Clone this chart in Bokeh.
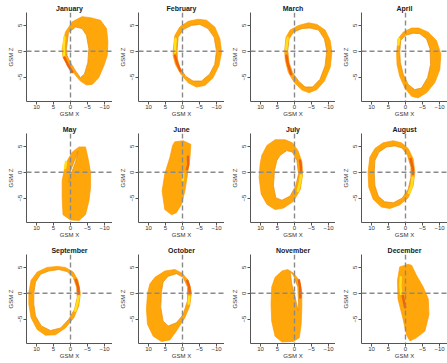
from bokeh.plotting import figure
from bokeh.layouts import gridplot
from bokeh.models import Range1d, FixedTicker, Span
from bokeh.embed import file_html
from bokeh.resources import INLINE

MONTHS = ["January", "February", "March", "April", "May", "June",
          "July", "August", "September", "October", "November", "December"]
X_TICKS = [10, 5, 0, -5, -10]
Z_TICKS = [-5, 0, 5]
X_LEFT = 12.94
Z_LIMITS = (-9.7, 7.5)

# (GSM X, GSM Z) points: outer edge, inner edge (hole),
# and the yellow / red stretches of each month's orbit track.
JAN_OUTER = [(2.45, 0.46), (1.5, 3.7), (-0.5, 5.7), (-3.4, 6.7), (-5.9, 6.5), (-8.8, 6.0), (-10.6, 4.4),
             (-11.0, 1.8), (-10.8, -0.85), (-9.8, -2.8), (-8.3, -5.1), (-6.4, -6.4), (-4.7, -6.5),
             (-2.9, -5.75), (-1.0, -4.25), (1.0, -2.5), (2.2, -1.2)]
JAN_INNER = [(1.2, 0.5), (0.6, 3.6), (-1.5, 4.7), (-3.4, 4.4), (-4.7, 3.1), (-5.4, 0.5), (-5.1, -2.2),
             (-4.1, -4.4), (-2.9, -5.1), (-1.5, -3.8), (0.0, -2.2), (1.0, -0.85)]
JAN_YELLOW = [(1.8, 2.7), (2.0, 1.0), (1.9, -0.8)]
JAN_RED = [(1.8, -1.2), (0.8, -2.6), (-0.5, -4.0)]

FEB_OUTER = [(2.75, 0.13), (2.25, 3.07), (0.8, 4.7), (-1.7, 5.8), (-4.6, 6.2), (-7.1, 6.0), (-9.5, 4.7),
             (-11.0, 2.4), (-11.5, -0.2), (-10.7, -2.8), (-9.0, -5.1), (-6.6, -6.6), (-4.1, -6.9),
             (-1.7, -6.1), (0.5, -4.4), (2.1, -2.5), (2.75, -0.85)]
FEB_INNER = [(1.6, 0.1), (1.3, 2.7), (-0.2, 4.2), (-2.6, 5.0), (-5.1, 5.2), (-7.5, 4.4), (-9.3, 2.7),
             (-10.0, 0.1), (-9.5, -2.5), (-8.0, -4.4), (-5.6, -5.75), (-3.1, -5.75), (-0.9, -4.8),
             (0.8, -3.1), (1.5, -1.5)]
FEB_YELLOW = [(2.0, 2.4), (2.2, 0.8), (2.2, -0.2)]
FEB_RED = [(2.2, -0.85), (1.6, -2.3), (0.6, -3.8)]

MAR_OUTER = [(2.9, 0.1), (2.5, 2.7), (1.3, 4.1), (-1.2, 5.0), (-4.1, 5.5), (-6.6, 5.2), (-9.0, 4.1),
             (-10.5, 2.1), (-11.0, -0.2), (-10.5, -3.1), (-8.8, -5.75), (-6.6, -7.4), (-4.3, -8.0),
             (-2.2, -7.5), (0.0, -6.1), (1.8, -4.1), (2.7, -1.8)]
MAR_INNER = [(2.0, 0.1), (1.6, 2.4), (0.3, 3.7), (-2.2, 4.4), (-4.6, 4.5), (-7.1, 4.1), (-8.8, 2.4),
             (-9.5, 0.1), (-9.0, -2.8), (-7.5, -5.4), (-5.3, -6.9), (-3.1, -6.9), (-1.2, -5.75),
             (0.6, -4.1), (1.6, -2.2)]
MAR_YELLOW = [(2.0, 2.6), (2.3, 1.2), (2.4, 0.3)]
MAR_RED = [(2.4, -0.85), (1.9, -2.6), (1.0, -4.4)]

APR_OUTER = [(2.6, -0.2), (2.2, 2.4), (0.7, 3.7), (-1.8, 4.5), (-3.9, 4.5), (-6.7, 3.7), (-9.1, 2.1),
             (-10.4, -0.5), (-10.1, -3.5), (-8.6, -6.1), (-6.2, -8.0), (-3.7, -9.0), (-1.8, -8.7),
             (0.2, -7.1), (1.7, -4.8), (2.5, -2.5)]
APR_INNER = [(1.7, -0.2), (1.4, 2.1), (0.0, 3.1), (-2.3, 3.5), (-4.2, 3.4), (-6.2, 2.4), (-7.2, 0.5),
             (-7.4, -2.5), (-6.5, -5.1), (-4.7, -7.1), (-2.7, -7.4), (-0.8, -6.4), (0.7, -4.4),
             (1.5, -2.2)]
APR_YELLOW = [(1.9, 2.4), (2.1, 1.3)]
APR_RED = []

MAY_OUTER = [(-2.5, 4.9), (-4.4, 4.9), (-5.1, 2.9), (-5.9, 0.0), (-5.9, -2.9), (-5.4, -5.6), (-4.4, -8.2),
             (-2.5, -9.3), (0.0, -9.2), (2.2, -8.2), (2.45, -4.9), (2.45, -1.6), (1.5, 1.6), (-0.5, 3.9)]
MAY_INNER = [(-2.2, 4.1), (-1.2, 2.3), (0.2, 0.0), (0.5, -2.0), (0.0, -0.65), (-1.5, 2.0)]
MAY_YELLOW = [(1.3, 2.0), (1.6, 0.8)]
MAY_RED = []

JUN_OUTER = [(2.25, 5.9), (-0.2, 6.1), (-2.45, 5.4), (-2.2, 2.9), (-1.5, -0.3), (-0.7, -3.6), (0.3, -6.2),
             (1.8, -7.8), (3.2, -8.2), (5.2, -7.2), (6.0, -3.6), (5.2, -0.3), (3.7, 2.9), (2.9, 5.2)]
JUN_INNER = []
JUN_YELLOW = [(-0.2, -0.3), (-0.1, -1.5)]
JUN_RED = [(-1.6, 3.0), (-1.7, 1.5), (-1.3, 0.6)]

JUL_OUTER = [(9.6, 3.3), (8.1, 5.2), (5.7, 6.3), (2.75, 6.3), (0.6, 5.7), (-1.0, 4.2), (-2.2, 2.0),
             (-2.35, -0.65), (-1.7, -3.3), (0.3, -5.6), (3.2, -6.9), (5.7, -7.2), (8.1, -6.2),
             (9.8, -4.2), (10.4, -1.0), (10.1, 1.6)]
JUL_INNER = [(4.2, 3.3), (2.25, 4.2), (0.6, 3.9), (-0.7, 2.3), (-1.2, -0.3), (-0.4, -2.6), (1.3, -4.6),
             (3.7, -5.4), (5.5, -4.9), (6.2, -2.6), (5.9, 0.3), (5.2, 2.3)]
JUL_YELLOW = [(-1.9, -0.6), (-1.6, -2.0), (-1.0, -3.6)]
JUL_RED = [(-1.6, 2.3), (-1.9, 1.0), (-1.9, 0.0)]

AUG_OUTER = [(11.0, 0.0), (10.5, 2.9), (9.0, 4.6), (6.6, 5.7), (3.6, 6.1), (1.2, 5.7), (-0.8, 4.6),
             (-2.25, 2.6), (-2.75, 0.0), (-2.25, -2.6), (-0.8, -4.9), (1.7, -6.3), (4.6, -7.0),
             (7.1, -6.7), (9.5, -5.2), (10.8, -2.9)]
AUG_INNER = [(9.2, 0.0), (9.0, 2.3), (7.8, 3.9), (5.6, 4.9), (3.1, 5.1), (1.0, 4.7), (-0.6, 3.3),
             (-1.6, 1.0), (-1.6, -1.0), (-0.8, -3.3), (1.0, -5.0), (3.6, -5.9), (6.1, -5.7),
             (8.0, -4.6), (9.0, -2.6)]
AUG_YELLOW = [(-2.1, -1.0), (-1.8, -2.6), (-1.0, -4.0)]
AUG_RED = [(-1.5, 2.6), (-2.1, 1.0), (-2.2, -0.3)]

SEP_OUTER = [(12.25, 0.2), (11.6, 2.5), (9.8, 4.1), (6.9, 5.0), (3.9, 5.2), (1.5, 5.0), (-0.8, 4.1),
             (-2.2, 2.5), (-2.9, 0.0), (-2.45, -2.4), (-1.0, -4.7), (1.5, -6.7), (4.4, -8.0),
             (7.4, -8.1), (9.8, -7.0), (11.6, -4.7), (12.25, -2.1)]
SEP_INNER = [(10.8, 0.0), (10.3, 2.2), (8.8, 3.7), (6.4, 4.3), (3.4, 4.6), (1.0, 4.2), (-0.8, 3.1),
             (-1.8, 1.2), (-2.0, -0.8), (-1.2, -3.1), (0.5, -5.0), (2.9, -6.7), (5.9, -7.2),
             (8.6, -6.3), (10.3, -4.4), (10.8, -2.1)]
SEP_YELLOW = [(-2.4, -0.5), (-2.0, -2.0), (-1.4, -3.4)]
SEP_RED = [(-1.6, 2.6), (-2.3, 1.2), (-2.4, -0.1)]

OCT_OUTER = [(10.6, -3.1), (10.3, -0.1), (9.6, 1.8), (8.1, 3.1), (5.2, 4.3), (2.25, 4.6), (0.1, 3.9),
             (-1.7, 2.5), (-2.65, 0.2), (-2.15, -2.4), (-0.7, -4.7), (1.8, -7.3), (3.7, -9.0),
             (6.2, -9.3), (8.6, -8.3), (10.3, -6.0)]
OCT_INNER = [(6.2, 0.2), (5.7, 2.2), (4.2, 3.3), (1.8, 3.8), (-0.2, 3.1), (-1.5, 1.2), (-1.5, -1.4),
             (-0.2, -4.1), (1.8, -5.7), (4.2, -6.3), (5.7, -5.4), (6.4, -2.7)]
OCT_YELLOW = [(-2.0, -0.6), (-1.8, -2.0)]
OCT_RED = [(-1.4, 2.4), (-2.0, 1.3), (-2.1, 0.0)]

NOV_OUTER = [(6.7, 1.2), (5.7, 3.1), (3.7, 4.3), (2.0, 4.6), (0.3, 3.9), (-1.4, 2.5), (-2.15, 0.2),
             (-2.15, -2.7), (-1.96, -6.0), (-1.4, -8.6), (0.3, -9.3), (3.7, -9.4), (5.7, -8.3),
             (6.7, -5.4), (6.9, -2.1)]
NOV_INNER = [(1.3, 4.2), (0.3, 3.5), (-1.0, 1.2), (-1.2, -1.8), (-1.0, -3.4), (-0.4, -1.4), (0.8, 1.8)]
NOV_YELLOW = []
NOV_RED = [(-1.3, 2.5), (-1.7, 1.0), (-1.7, -0.8)]

DEC_OUTER = [(1.7, 5.1), (-0.8, 5.6), (-1.8, 5.4), (-3.2, 3.5), (-5.2, 1.2), (-6.7, -1.1), (-6.9, -4.1),
             (-5.7, -7.3), (-3.2, -8.6), (-1.3, -9.2), (-0.3, -8.0), (0.7, -5.0), (2.2, -1.1), (2.35, 2.5)]
DEC_INNER = []
DEC_YELLOW = [(1.4, 3.1), (1.5, 1.5), (1.3, -0.1)]
DEC_RED = [(0.8, -0.5), (0.4, -1.8), (0.1, -2.7)]

OUTERS = [JAN_OUTER, FEB_OUTER, MAR_OUTER, APR_OUTER, MAY_OUTER, JUN_OUTER,
          JUL_OUTER, AUG_OUTER, SEP_OUTER, OCT_OUTER, NOV_OUTER, DEC_OUTER]
INNERS = [JAN_INNER, FEB_INNER, MAR_INNER, APR_INNER, MAY_INNER, JUN_INNER,
          JUL_INNER, AUG_INNER, SEP_INNER, OCT_INNER, NOV_INNER, DEC_INNER]
YELLOWS = [JAN_YELLOW, FEB_YELLOW, MAR_YELLOW, APR_YELLOW, MAY_YELLOW, JUN_YELLOW,
           JUL_YELLOW, AUG_YELLOW, SEP_YELLOW, OCT_YELLOW, NOV_YELLOW, DEC_YELLOW]
REDS = [JAN_RED, FEB_RED, MAR_RED, APR_RED, MAY_RED, JUN_RED,
        JUL_RED, AUG_RED, SEP_RED, OCT_RED, NOV_RED, DEC_RED]

FONT = "Liberation Sans"
ORANGE = "#FFA60A"
EDGE = "#FF9900"
INNER_EDGE = "#E88A00"
YELLOW = "#FFE01A"
RED = "#F0620C"

COL_WIDTHS = [112, 112, 111, 112]
ROW_HEIGHT = 121
LEFT_BORDER = 26
PX_PER_X = 3.4


def xs_of(pts):
    return [x for x, _ in pts]


def zs_of(pts):
    return [z for _, z in pts]


def signed_area(pts):
    n = len(pts)
    return sum(pts[i][0] * pts[(i + 1) % n][1] - pts[(i + 1) % n][0] * pts[i][1] for i in range(n)) / 2


def band_ring(outer, inner):
    """One closed ring: outer edge, then the hole traced the opposite way."""
    if not inner:
        return list(outer)
    hole = list(inner)
    if (signed_area(outer) > 0) == (signed_area(hole) > 0):
        hole = hole[::-1]
    return list(outer) + [outer[0]] + hole + [hole[0], outer[0]]


def closed(pts):
    return list(pts) + [pts[0]]


def panel(title, outer, inner, yellow, red, width):
    frame_w = width - LEFT_BORDER
    x_right = X_LEFT - frame_w / PX_PER_X
    p = figure(width=width, height=ROW_HEIGHT,
               x_range=Range1d(X_LEFT, x_right),
               y_range=Range1d(*Z_LIMITS),
               output_backend="svg", toolbar_location=None,
               min_border_left=LEFT_BORDER, min_border_right=0,
               min_border_top=12, min_border_bottom=20)
    p.background_fill_color = "white"
    p.border_fill_color = "white"
    p.outline_line_color = None
    p.grid.visible = False

    p.title.text = title
    p.title.align = "center"
    p.title.text_font = FONT
    p.title.text_font_size = "7px"
    p.title.text_font_style = "bold"
    p.title.text_color = "#1a1a1a"
    p.title.standoff = 1

    ring = band_ring(outer, inner)
    p.patch(xs_of(ring), zs_of(ring), fill_color=ORANGE, line_color=None)
    p.line(xs_of(closed(outer)), zs_of(closed(outer)), line_color=EDGE, line_width=0.7)
    if inner:
        p.patch(xs_of(inner), zs_of(inner), fill_color="#ffffff", fill_alpha=1.0, line_color=None)
        p.line(xs_of(closed(inner)), zs_of(closed(inner)), line_color=INNER_EDGE, line_width=0.8)
    if yellow:
        p.line(xs_of(yellow), zs_of(yellow), line_color=YELLOW, line_width=2.5, line_cap="round")
    if red:
        p.line(xs_of(red), zs_of(red), line_color=RED, line_width=2.5, line_cap="round")

    for dim in ("height", "width"):
        p.add_layout(Span(location=0, dimension=dim, line_color="#8a8a8a",
                          line_width=1.4, line_dash="5 3"))

    for ax, ticks, lab in ((p.xaxis, X_TICKS, "GSM X"), (p.yaxis, Z_TICKS, "GSM Z")):
        ax.ticker = FixedTicker(ticks=ticks)
        ax.axis_label = lab
        ax.axis_label_text_font = FONT
        ax.axis_label_text_font_size = "6px"
        ax.axis_label_text_font_style = "normal"
        ax.axis_label_text_color = "#333333"
        ax.major_label_text_font = FONT
        ax.major_label_text_font_size = "6px"
        ax.major_label_text_color = "#333333"
        ax.axis_line_color = "#555555"
        ax.major_tick_line_color = "#555555"
        ax.major_tick_in = 0
        ax.major_tick_out = 3
        ax.minor_tick_in = 0
        ax.minor_tick_out = 0
    p.xaxis.major_label_standoff = 0
    p.xaxis.axis_label_standoff = -1
    p.yaxis.major_label_standoff = 1
    p.yaxis.axis_label_standoff = 2
    p.yaxis.major_label_orientation = "vertical"
    return p


figs = [panel(m, o, i, y, r, COL_WIDTHS[k % 4])
        for k, (m, o, i, y, r) in enumerate(zip(MONTHS, OUTERS, INNERS, YELLOWS, REDS))]
grid = gridplot(figs, ncols=4, toolbar_location=None)

# Render a solid (hole-free) panel first; keep every panel in its own grid cell.
first = [c for c in grid.children if c[0] is figs[5]]
rest = [c for c in grid.children if c[0] is not figs[5]]
grid.children = first + rest

open("out.html", "w").write(file_html(grid, INLINE))
